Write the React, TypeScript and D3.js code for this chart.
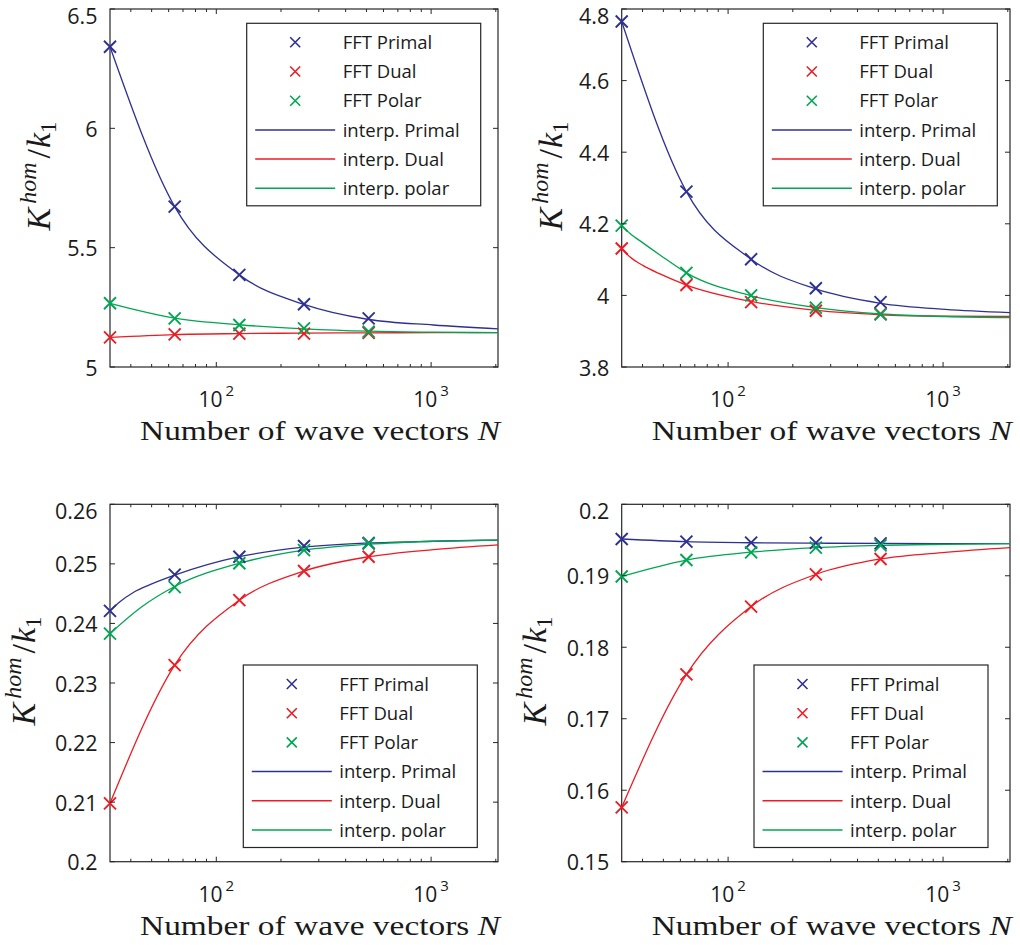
import React from 'react';
import * as d3 from 'd3';

// ---------- shared axis data ----------
const N_POINTS = [32, 64, 128, 256, 512];
const X_DOMAIN: [number, number] = [32, 2048];
const X_MAJOR = [100, 1000];
const X_MAJOR_EXP = ['2', '3'];
const X_MINOR = [40, 50, 60, 70, 80, 90, 200, 300, 400, 500, 600, 700, 800, 900, 2000];

const LEGEND_LABELS = ['FFT Primal', 'FFT Dual', 'FFT Polar', 'interp. Primal', 'interp. Dual', 'interp. polar'];
const COLORS = ['#2e3192', '#ed1c24', '#00a651'];

// ---------- panel A (top-left) ----------
const A_Y_DOMAIN: [number, number] = [5, 6.5];
const A_Y_TICKS = [5, 5.5, 6, 6.5];
const A_Y_LABELS = ['5', '5.5', '6', '6.5'];
const A_PRIMAL = [6.342, 5.672, 5.386, 5.263, 5.204];
const A_DUAL = [5.124, 5.137, 5.14, 5.14, 5.143];
const A_POLAR = [5.267, 5.204, 5.176, 5.162, 5.148];
const A_FIT_PRIMAL: [number, number][] = [[32, 6.342], [64, 5.672], [128, 5.386], [256, 5.262], [512, 5.199], [1024, 5.176], [2048, 5.16]];
const A_FIT_DUAL: [number, number][] = [[32, 5.124], [64, 5.136], [128, 5.14], [256, 5.142], [512, 5.143], [1024, 5.144], [2048, 5.144]];
const A_FIT_POLAR: [number, number][] = [[32, 5.267], [64, 5.205], [128, 5.177], [256, 5.16], [512, 5.15], [1024, 5.146], [2048, 5.144]];

// ---------- panel B (top-right) ----------
const B_Y_DOMAIN: [number, number] = [3.8, 4.8];
const B_Y_TICKS = [3.8, 4, 4.2, 4.4, 4.6, 4.8];
const B_Y_LABELS = ['3.8', '4', '4.2', '4.4', '4.6', '4.8'];
const B_PRIMAL = [4.765, 4.29, 4.101, 4.02, 3.981];
const B_DUAL = [4.131, 4.029, 3.981, 3.957, 3.948];
const B_POLAR = [4.195, 4.063, 4.0, 3.966, 3.947];
const B_FIT_PRIMAL: [number, number][] = [[32, 4.765], [64, 4.29], [128, 4.101], [256, 4.018], [512, 3.978], [1024, 3.961], [2048, 3.952]];
const B_FIT_DUAL: [number, number][] = [[32, 4.131], [35, 4.107], [40.3, 4.083], [48.2, 4.06], [64, 4.029], [128, 3.983], [256, 3.958], [512, 3.946], [1024, 3.942], [2048, 3.941]];
const B_FIT_POLAR: [number, number][] = [[32, 4.195], [35, 4.173], [40.3, 4.146], [48.2, 4.113], [64, 4.063], [128, 3.999], [256, 3.966], [512, 3.948], [1024, 3.941], [2048, 3.938]];

// ---------- panel C (bottom-left) ----------
const C_Y_DOMAIN: [number, number] = [0.2, 0.26];
const C_Y_TICKS = [0.2, 0.21, 0.22, 0.23, 0.24, 0.25, 0.26];
const C_Y_LABELS = ['0.2', '0.21', '0.22', '0.23', '0.24', '0.25', '0.26'];
const C_PRIMAL = [0.2421, 0.2482, 0.2512, 0.253, 0.2535];
const C_DUAL = [0.2098, 0.233, 0.2439, 0.2488, 0.2512];
const C_POLAR = [0.2383, 0.2461, 0.2501, 0.2523, 0.2534];
const C_FIT_PRIMAL: [number, number][] = [[32, 0.2421], [35.6, 0.24365], [41.1, 0.2452], [49.1, 0.2465], [64, 0.2481], [128, 0.2512], [256, 0.2528], [512, 0.2535], [1024, 0.2538], [2048, 0.254]];
const C_FIT_DUAL: [number, number][] = [[32, 0.2098], [64, 0.233], [128, 0.2439], [256, 0.2488], [512, 0.2512], [1024, 0.2524], [2048, 0.2532]];
const C_FIT_POLAR: [number, number][] = [[32, 0.2383], [45, 0.2428], [64, 0.2462], [128, 0.2501], [256, 0.2523], [512, 0.2533], [1024, 0.2538], [2048, 0.254]];

// ---------- panel D (bottom-right) ----------
const D_Y_DOMAIN: [number, number] = [0.15, 0.2];
const D_Y_TICKS = [0.15, 0.16, 0.17, 0.18, 0.19, 0.2];
const D_Y_LABELS = ['0.15', '0.16', '0.17', '0.18', '0.19', '0.2'];
const D_PRIMAL = [0.19515, 0.19478, 0.19464, 0.1946, 0.19454];
const D_DUAL = [0.1576, 0.1762, 0.18568, 0.1902, 0.19235];
const D_POLAR = [0.1899, 0.19221, 0.19328, 0.19394, 0.19426];
const D_FIT_PRIMAL: [number, number][] = [[32, 0.19515], [64, 0.19478], [128, 0.19462], [256, 0.19456], [512, 0.19453], [2048, 0.1945]];
const D_FIT_DUAL: [number, number][] = [[32, 0.1576], [64, 0.1762], [128, 0.1857], [256, 0.1902], [512, 0.19235], [1024, 0.19328], [2048, 0.19394]];
const D_FIT_POLAR: [number, number][] = [[32, 0.1899], [64, 0.1922], [128, 0.1933], [256, 0.19394], [512, 0.19426], [1024, 0.1944], [2048, 0.1945]];

const SANS = '"Open Sans", "Noto Sans", sans-serif';
const SERIF = '"Liberation Serif", "DejaVu Serif", serif';
const AXIS_COLOR = '#262626';

type PanelProps = {
  left: number; right: number; top: number; bottom: number;
  yDomain: [number, number]; yTicks: number[]; yLabels: string[];
  markers: number[][]; fits: [number, number][][];
  legendX: number; legendY: number; yLabelX: number;
};

const Cross = ({ x, y, r, color, w }: { x: number; y: number; r: number; color: string; w: number }) => (
  <path d={`M${x - r},${y - r}L${x + r},${y + r}M${x - r},${y + r}L${x + r},${y - r}`} stroke={color} strokeWidth={w} fill="none" />
);

function Panel(p: PanelProps) {
  const x = d3.scaleLog().domain(X_DOMAIN).range([p.left, p.right]);
  const y = d3.scaleLinear().domain(p.yDomain).range([p.bottom, p.top]);
  const line = d3.line<[number, number]>().x(d => x(d[0])).y(d => y(d[1])).curve(d3.curveMonotoneX);
  const lw = 234, lh = 182.5, rowGap = 29.2, firstRow = 19;
  const yMid = (p.top + p.bottom) / 2 - 12;
  return (
    <g>
      {/* axes box */}
      <rect x={p.left} y={p.top} width={p.right - p.left} height={p.bottom - p.top} fill="none" stroke={AXIS_COLOR} strokeWidth={1.2} />
      {/* fits */}
      {p.fits.map((f, i) => (
        <path key={i} d={line(f) || ''} stroke={COLORS[i]} strokeWidth={1.3} fill="none" />
      ))}
      {p.markers.map((s, i) =>
        s.map((v, j) => <Cross key={`${i}-${j}`} x={x(N_POINTS[j])} y={y(v)} r={6} color={COLORS[i]} w={1.9} />)
      )}
      {/* x ticks */}
      {X_MAJOR.map((t, i) => (
        <g key={`xm${i}`}>
          <line x1={x(t)} x2={x(t)} y1={p.bottom} y2={p.bottom - 5} stroke={AXIS_COLOR} strokeWidth={1} />
          <line x1={x(t)} x2={x(t)} y1={p.top} y2={p.top + 5} stroke={AXIS_COLOR} strokeWidth={1} />
          <text x={x(t)} y={p.bottom + 40} textAnchor="middle" fontFamily={SANS} fontSize={21} fill="#1a1a1a">
            10<tspan fontSize={15} dx={3} dy={-11}>{X_MAJOR_EXP[i]}</tspan>
          </text>
        </g>
      ))}
      {X_MINOR.map((t, i) => (
        <g key={`xn${i}`}>
          <line x1={x(t)} x2={x(t)} y1={p.bottom} y2={p.bottom - 3} stroke={AXIS_COLOR} strokeWidth={1} />
          <line x1={x(t)} x2={x(t)} y1={p.top} y2={p.top + 3} stroke={AXIS_COLOR} strokeWidth={1} />
        </g>
      ))}
      {/* y ticks */}
      {p.yTicks.map((t, i) => (
        <g key={`y${i}`}>
          <line x1={p.left} x2={p.left + 5} y1={y(t)} y2={y(t)} stroke={AXIS_COLOR} strokeWidth={1} />
          <line x1={p.right} x2={p.right - 5} y1={y(t)} y2={y(t)} stroke={AXIS_COLOR} strokeWidth={1} />
          <text x={p.left - 12.5} y={Math.max(y(t) + 8.5, p.top + 14.5)} textAnchor="end" fontFamily={SANS} fontSize={21.5} fill="#1a1a1a">{p.yLabels[i]}</text>
        </g>
      ))}
      {/* x label */}
      <text x={p.left + 30} y={p.bottom + 73} fontFamily={SERIF} fontSize={27} fill="#1a1a1a" textLength={360} lengthAdjust="spacingAndGlyphs">
        Number of wave vectors <tspan fontStyle="italic">N</tspan>
      </text>
      {/* y label */}
      <text transform={`translate(${p.yLabelX},${yMid}) rotate(-90)`} textAnchor="middle" fontFamily={SERIF} fontSize={34} fill="#1a1a1a">
        <tspan fontStyle="italic">K</tspan>
        <tspan fontStyle="italic" fontSize={24} dx={4} dy={-14}>hom</tspan>
        <tspan dx={4} dy={14}>/</tspan>
        <tspan fontStyle="italic" dx={1}>k</tspan>
        <tspan fontSize={23} dy={6}>1</tspan>
      </text>
      {/* legend */}
      <g transform={`translate(${p.legendX},${p.legendY})`}>
        <rect x={0} y={0} width={lw} height={lh} fill="#fff" stroke={AXIS_COLOR} strokeWidth={1.2} />
        {LEGEND_LABELS.map((lab, i) => {
          const ry = firstRow + i * rowGap;
          return (
            <g key={lab}>
              {i < 3 ? (
                <Cross x={48.5} y={ry} r={5} color={COLORS[i]} w={1.6} />
              ) : (
                <line x1={8.5} x2={88.5} y1={ry} y2={ry} stroke={COLORS[i - 3]} strokeWidth={1.5} />
              )}
              <text x={96} y={ry + 6.7} fontFamily={SANS} fontSize={18.5} fill="#1a1a1a">{lab}</text>
            </g>
          );
        })}
      </g>
    </g>
  );
}

export default function App() {
  const L1 = 110, R1 = 498, L2 = 621.7, R2 = 1010;
  const T1 = 9, B1 = 367, T2 = 504.3, B2 = 861.7;
  return (
    <svg width={1020} height={945} style={{ position: 'absolute', left: 0, top: 0, background: '#fff' }}>
      <rect width={1020} height={945} fill="#fff" />
      <Panel left={L1} right={R1} top={T1} bottom={B1} yDomain={A_Y_DOMAIN} yTicks={A_Y_TICKS} yLabels={A_Y_LABELS}
        markers={[A_PRIMAL, A_DUAL, A_POLAR]} fits={[A_FIT_PRIMAL, A_FIT_DUAL, A_FIT_POLAR]}
        legendX={246.7} legendY={23.3} yLabelX={50} />
      <Panel left={L2} right={R2} top={T1} bottom={B1} yDomain={B_Y_DOMAIN} yTicks={B_Y_TICKS} yLabels={B_Y_LABELS}
        markers={[B_PRIMAL, B_DUAL, B_POLAR]} fits={[B_FIT_PRIMAL, B_FIT_DUAL, B_FIT_POLAR]}
        legendX={763.3} legendY={23.3} yLabelX={561.7} />
      <Panel left={L1} right={R1} top={T2} bottom={B2} yDomain={C_Y_DOMAIN} yTicks={C_Y_TICKS} yLabels={C_Y_LABELS}
        markers={[C_PRIMAL, C_DUAL, C_POLAR]} fits={[C_FIT_PRIMAL, C_FIT_DUAL, C_FIT_POLAR]}
        legendX={243.3} legendY={665} yLabelX={35} />
      <Panel left={L2} right={R2} top={T2} bottom={B2} yDomain={D_Y_DOMAIN} yTicks={D_Y_TICKS} yLabels={D_Y_LABELS}
        markers={[D_PRIMAL, D_DUAL, D_POLAR]} fits={[D_FIT_PRIMAL, D_FIT_DUAL, D_FIT_POLAR]}
        legendX={754} legendY={665} yLabelX={546} />
    </svg>
  );
}
